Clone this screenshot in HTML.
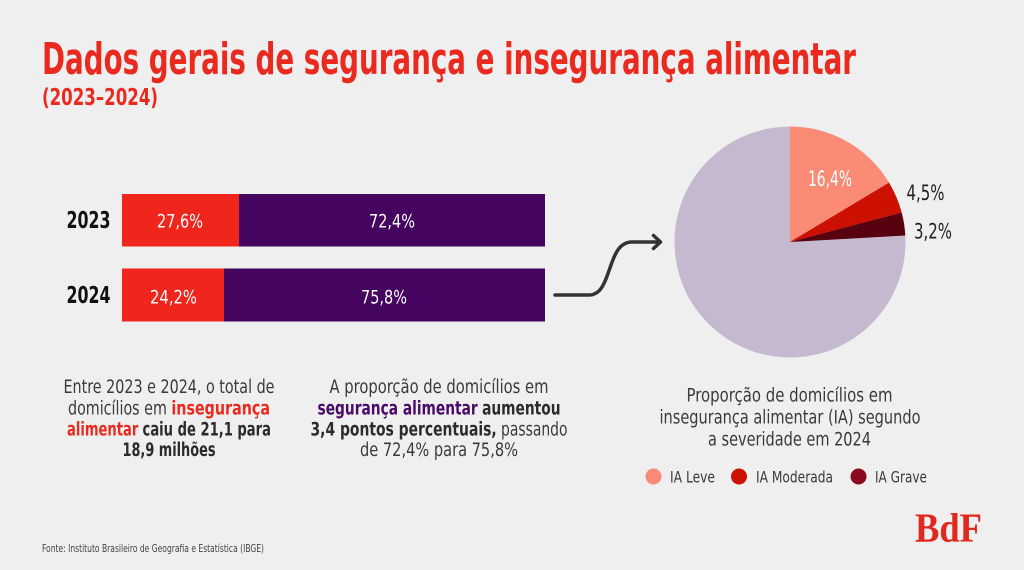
<!DOCTYPE html>
<html>
<head>
<meta charset="utf-8">
<style>
  html,body{margin:0;padding:0;background:#efefef;}
  svg{display:block;}
  .cond{font-family:"Liberation Sans Narrow","DejaVu Sans Condensed","Liberation Sans",sans-serif;}
</style>
</head>
<body>
<svg width="1024" height="570" viewBox="0 0 1024 570" xmlns="http://www.w3.org/2000/svg">
  <rect x="0" y="0" width="1024" height="570" fill="#efefef"/>

  <!-- Title -->
  <text class="cond" x="42" y="74" font-size="44" font-weight="bold" fill="#ea2a1f" textLength="814" lengthAdjust="spacingAndGlyphs">Dados gerais de segurança e insegurança alimentar</text>
  <text class="cond" x="42" y="105" font-size="23" font-weight="bold" fill="#ea2a1f" textLength="116" lengthAdjust="spacingAndGlyphs">(2023–2024)</text>

  <!-- Bars -->
  <rect x="122" y="194" width="117" height="52.5" fill="#f0261c"/>
  <rect x="239" y="194" width="306" height="52.5" fill="#44045f"/>
  <rect x="122" y="268.5" width="102" height="53" fill="#f0261c"/>
  <rect x="224" y="268.5" width="321" height="53" fill="#44045f"/>

  <text class="cond" x="66.5" y="228" font-size="23" font-weight="bold" fill="#111" textLength="44" lengthAdjust="spacingAndGlyphs">2023</text>
  <text class="cond" x="66.5" y="303" font-size="23" font-weight="bold" fill="#111" textLength="44" lengthAdjust="spacingAndGlyphs">2024</text>

  <text class="cond" x="157" y="227.5" font-size="19" fill="#fff" textLength="46" lengthAdjust="spacingAndGlyphs">27,6%</text>
  <text class="cond" x="369" y="227.5" font-size="19" fill="#fff" textLength="46" lengthAdjust="spacingAndGlyphs">72,4%</text>
  <text class="cond" x="150" y="303.5" font-size="19" fill="#fff" textLength="47" lengthAdjust="spacingAndGlyphs">24,2%</text>
  <text class="cond" x="361" y="303.5" font-size="19" fill="#fff" textLength="46" lengthAdjust="spacingAndGlyphs">75,8%</text>

  <!-- Arrow -->
  <path d="M555,295 L589,295 C613,295 606,242 632,242 L660,242" fill="none" stroke="#333" stroke-width="3.5" stroke-linecap="round" stroke-linejoin="round"/>
  <path d="M653.5,235.5 L660.5,242 L653.5,248.5" fill="none" stroke="#333" stroke-width="3.5" stroke-linecap="round" stroke-linejoin="round"/>

  <!-- Pie -->
  <circle cx="790" cy="242" r="115.5" fill="#c5b9d0"/>
  <path d="M790,242 L790,126.5 A115.5,115.5 0 0 1 889,182.6 Z" fill="#fc8b75"/>
  <path d="M790,242 L889,182.6 A115.5,115.5 0 0 1 901.7,212.6 Z" fill="#cc1100"/>
  <path d="M790,242 L901.7,212.6 A115.5,115.5 0 0 1 905.3,235.5 Z" fill="#560010"/>

  <text class="cond" x="808" y="186" font-size="21" fill="#fff" textLength="44" lengthAdjust="spacingAndGlyphs">16,4%</text>
  <text class="cond" x="906.5" y="200" font-size="21" fill="#222" textLength="38" lengthAdjust="spacingAndGlyphs">4,5%</text>
  <text class="cond" x="914" y="238.5" font-size="21" fill="#222" textLength="38" lengthAdjust="spacingAndGlyphs">3,2%</text>

  <!-- Left text block -->
  <g class="cond" font-size="18.5" fill="#3a3a3a" text-anchor="middle">
    <text x="169" y="393" textLength="211" lengthAdjust="spacingAndGlyphs">Entre 2023 e 2024, o total de</text>
    <text x="169" y="414.5" textLength="202" lengthAdjust="spacingAndGlyphs">domicílios em <tspan font-weight="bold" fill="#ea2a1f">insegurança</tspan></text>
    <text x="169" y="435.5" textLength="204" lengthAdjust="spacingAndGlyphs"><tspan font-weight="bold" fill="#ea2a1f">alimentar</tspan> <tspan font-weight="bold" fill="#2b2b2b">caiu de 21,1 para</tspan></text>
    <text x="169" y="456" font-weight="bold" fill="#2b2b2b" textLength="93" lengthAdjust="spacingAndGlyphs">18,9 milhões</text>
  </g>

  <!-- Middle text block -->
  <g class="cond" font-size="18.5" fill="#3a3a3a" text-anchor="middle">
    <text x="439" y="393" textLength="219" lengthAdjust="spacingAndGlyphs">A proporção de domicílios em</text>
    <text x="439" y="414.5" textLength="243" lengthAdjust="spacingAndGlyphs"><tspan font-weight="bold" fill="#4a0a6a">segurança alimentar</tspan> <tspan font-weight="bold" fill="#2b2b2b">aumentou</tspan></text>
    <text x="439" y="435.5" textLength="257" lengthAdjust="spacingAndGlyphs"><tspan font-weight="bold" fill="#2b2b2b">3,4 pontos percentuais,</tspan> passando</text>
    <text x="439" y="456" textLength="158" lengthAdjust="spacingAndGlyphs">de 72,4% para 75,8%</text>
  </g>

  <!-- Pie caption -->
  <g class="cond" font-size="18.5" fill="#3a3a3a" text-anchor="middle">
    <text x="789.5" y="401.5" textLength="206" lengthAdjust="spacingAndGlyphs">Proporção de domicílios em</text>
    <text x="790" y="423.5" textLength="261" lengthAdjust="spacingAndGlyphs">insegurança alimentar (IA) segundo</text>
    <text x="789.5" y="445.5" textLength="163" lengthAdjust="spacingAndGlyphs">a severidade em 2024</text>
  </g>

  <!-- Legend -->
  <circle cx="653.5" cy="476.5" r="8" fill="#f98a76"/>
  <circle cx="739" cy="476.5" r="8" fill="#cc1100"/>
  <circle cx="858.5" cy="476.5" r="8" fill="#8a0a1e"/>
  <g class="cond" font-size="16" fill="#3a3a3a">
    <text x="670" y="482.5" textLength="45" lengthAdjust="spacingAndGlyphs">IA Leve</text>
    <text x="756" y="482.5" textLength="77" lengthAdjust="spacingAndGlyphs">IA Moderada</text>
    <text x="875" y="482.5" textLength="52" lengthAdjust="spacingAndGlyphs">IA Grave</text>
  </g>

  <!-- Logo -->
  <text x="915" y="541.5" font-family="'Liberation Serif', serif" font-size="41" font-weight="bold" fill="#e0281f" textLength="67" lengthAdjust="spacingAndGlyphs">BdF</text>

  <!-- Footer -->
  <text class="cond" x="42" y="552" font-size="10.5" fill="#444" textLength="222" lengthAdjust="spacingAndGlyphs">Fonte: Instituto Brasileiro de Geografia e Estatística (IBGE)</text>
</svg>
</body>
</html>
